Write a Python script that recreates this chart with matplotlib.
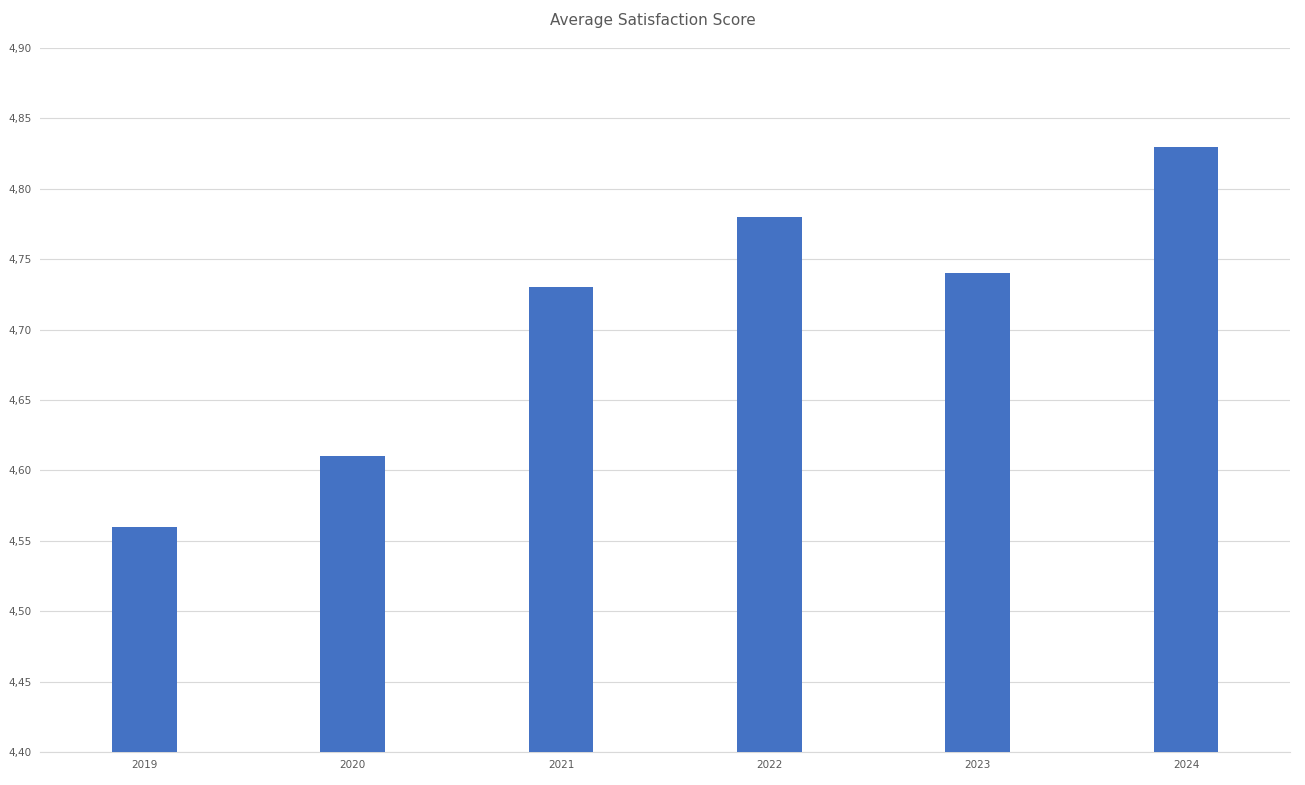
import matplotlib.pyplot as plt

years = ['2019', '2020', '2021', '2022', '2023', '2024']
scores = [4.56, 4.61, 4.73, 4.78, 4.74, 4.83]
yticks = [4.40, 4.45, 4.50, 4.55, 4.60, 4.65, 4.70, 4.75, 4.80, 4.85, 4.90]

fig = plt.figure(figsize=(13.05, 7.85), dpi=100)
ax = fig.add_axes([0.0307, 0.042, 0.958, 0.8969])

ax.bar(range(len(years)), scores, width=0.31, color='#4472C4', zorder=3)
ax.set_xlim(-0.5, len(years) - 0.5)
ax.set_ylim(4.40, 4.90)
ax.set_xticks(range(len(years)))
ax.set_xticklabels(years)
ax.set_yticks(yticks)
ax.set_yticklabels([f"{v:.2f}".replace('.', ',') for v in yticks])

ax.grid(axis='y', color='#d9d9d9', linewidth=0.8, zorder=0)
for side in ['top', 'right', 'left']:
    ax.spines[side].set_visible(False)
ax.spines['bottom'].set_color('#d9d9d9')
ax.tick_params(axis='both', length=0, labelsize=7.5, colors='#595959', pad=6)

# title centred on the whole figure, as in the original
fig.text(0.5, 0.974, "Average Satisfaction Score", ha='center', va='center',
         fontsize=11, color='#595959')

fig.savefig('out.png', dpi=100)
